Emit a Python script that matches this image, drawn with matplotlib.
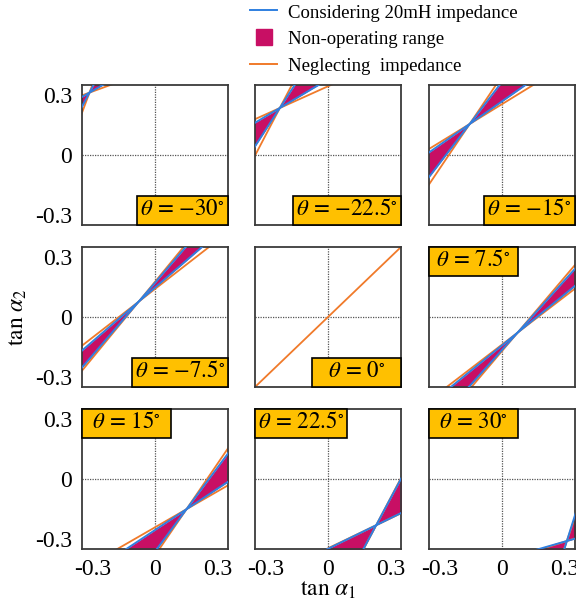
import matplotlib
matplotlib.use("Agg")
import matplotlib.pyplot as plt
import numpy as np
from matplotlib.lines import Line2D
from matplotlib.patches import Rectangle

plt.rcParams['font.family'] = ['Liberation Serif', 'DejaVu Serif']
plt.rcParams['mathtext.fontset'] = 'stix'

# valores
thetas = [-30, -22.5, -15, -7.5, 0, 7.5, 15, 22.5, 30]
theta_txt = ["{-}30", "{-}22.5", "{-}15", "{-}7.5", "0", "7.5", "15", "22.5", "30"]
cross_x = [-0.314, -0.231, -0.155, -0.078, 0.0, 0.075, 0.151, 0.231, 0.311]
cross_y = [0.312, 0.235, 0.155, 0.077, 0.0, -0.078, -0.151, -0.231, -0.31]
orange_steep = [2.8, 2.0, 1.55, 1.27, 1.0, 1.23, 1.53, 1.98, 3.0]
orange_flat = [0.38, 0.47, 0.64, 0.81, 1.0, 0.80, 0.60, 0.50, 0.33]
blue_steep = [1.95, 1.61, 1.36, 1.21, 1.0, 1.16, 1.40, 1.95, 3.3]
blue_flat = [0.60, 0.62, 0.73, 0.90, 1.0, 0.85, 0.69, 0.51, 0.30]

ticks = [-0.3, 0, 0.3]
tick_labels = ["-0.3", "0", "0.3"]

c_blue = '#2f7fe0'
c_orange = '#f07a2a'
c_fill = '#c80f64'
c_box = '#ffc000'

fig = plt.figure(figsize=(5.76, 6.07), dpi=100)
renderer = fig.canvas.get_renderer()

W, H = 576.0, 607.0
col_left = [82, 255, 429]
row_top = [85, 247, 409]
aw, ah = 146, 140
box_h = 29
box_wmin = 89

x = np.linspace(-0.36, 0.36, 400)

for i in range(9):
    r, c = i // 3, i % 3
    ax = fig.add_axes([col_left[c] / W, 1 - (row_top[r] + ah) / H, aw / W, ah / H])
    ax.set_xlim(-0.35, 0.35)
    ax.set_ylim(-0.35, 0.35)
    ax.axhline(0, color='#555555', lw=0.9, ls=(0, (1, 1)), zorder=0)
    ax.axvline(0, color='#555555', lw=0.9, ls=(0, (1, 1)), zorder=0)

    cx, cy = cross_x[i], cross_y[i]
    o1 = cy + orange_steep[i] * (x - cx)
    o2 = cy + orange_flat[i] * (x - cx)
    b1 = cy + blue_steep[i] * (x - cx)
    b2 = cy + blue_flat[i] * (x - cx)

    if thetas[i] != 0:
        ax.fill_between(x, b1, b2, color=c_fill, lw=0, zorder=1)
        ax.plot(x, o1, color=c_orange, lw=1.3, zorder=2)
        ax.plot(x, o2, color=c_orange, lw=1.3, zorder=2)
        ax.plot(x, b1, color=c_blue, lw=1.4, zorder=3)
        ax.plot(x, b2, color=c_blue, lw=1.4, zorder=3)
    else:
        ax.plot(x, o1, color=c_orange, lw=1.3, zorder=2)

    ax.set_xticks(ticks)
    ax.set_yticks(ticks)
    ax.tick_params(length=0, labelsize=17, pad=7)
    if c == 0:
        ax.set_yticklabels(tick_labels)
    else:
        ax.set_yticklabels([])
    if r == 2:
        ax.set_xticklabels(tick_labels)
    else:
        ax.set_xticklabels([])
    for sp in ax.spines.values():
        sp.set_color('#3a3a3a')
        sp.set_linewidth(1.3)

    # caixa amarela com o angulo
    txt = r'$\theta\,=\,' + theta_txt[i] + r'^{\circ}$'
    t = ax.text(0, 0, txt, fontsize=16.5, ha='center', va='center',
                transform=ax.transAxes, zorder=6)
    tw = t.get_window_extent(renderer).width
    bw = max(box_wmin, tw + 6)
    if thetas[i] > 0:
        x0, y0 = 0, 1 - box_h / ah
    else:
        x0, y0 = 1 - bw / aw, 0
    rect = Rectangle((x0, y0), bw / aw, box_h / ah, transform=ax.transAxes,
                     facecolor=c_box, edgecolor='black', lw=1.2, zorder=5, clip_on=False)
    ax.add_patch(rect)
    t.set_position((x0 + bw / aw / 2, y0 + box_h / ah / 2 + 0.01))

fig.text(328 / W, 1 - 590 / H, r'$\tan\,\alpha_1$', ha='center', va='center', fontsize=17)
fig.text(18 / W, 1 - 317 / H, r'$\tan\,\alpha_2$', ha='center', va='center',
         rotation=90, fontsize=17)

handles = [Line2D([], [], color=c_blue, lw=1.4),
           Line2D([], [], color=c_fill, marker='s', ls='none', markersize=12),
           Line2D([], [], color=c_orange, lw=1.4)]
labels = ["Considering 20mH impedance", "Non-operating range", "Neglecting  impedance"]
fig.legend(handles, labels, loc='upper left', bbox_to_anchor=(250 / W, 1 - 3 / H),
           frameon=False, fontsize=13.5, handlelength=1.45, handleheight=1.0,
           handletextpad=0.55, labelspacing=0.42, borderpad=0.0, borderaxespad=0.0)

fig.savefig("out.png", dpi=100)
